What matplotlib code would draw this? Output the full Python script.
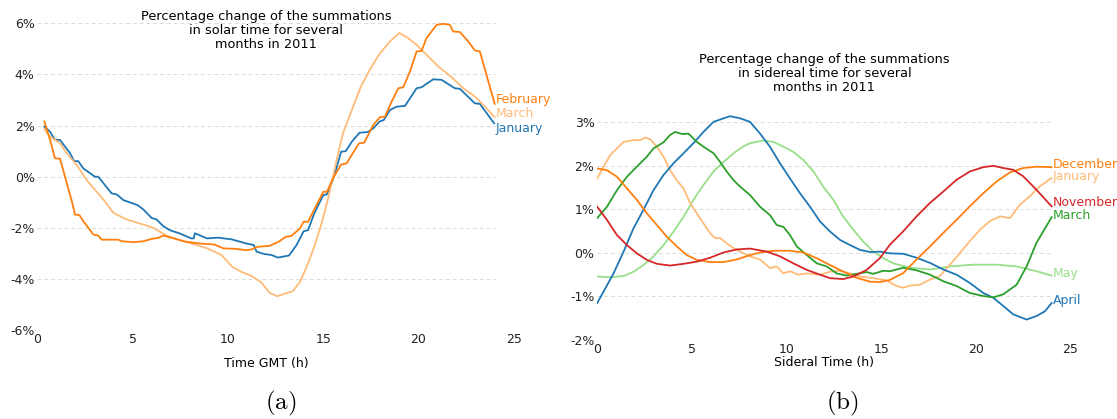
import matplotlib.pyplot as plt
from matplotlib.ticker import FuncFormatter

plt.rcParams['mathtext.fontset'] = 'cm'

# Tableau colours
BLUE = '#1f77b4'
ORANGE = '#ff7f0e'
LIGHT_ORANGE = '#ffbb78'
GREEN = '#2ca02c'
LIGHT_GREEN = '#98df8a'
RED = '#d62728'

# ---- (a) solar time, percentage change ----
jan_solar_h = [0.36, 0.66, 0.92, 1.18, 1.71, 1.92, 2.14, 2.4, 3.02, 3.19, 3.89, 4.16, 4.5, 5.03,
               5.26, 5.56, 5.99, 6.25, 6.6, 6.95, 7.48, 8.07, 8.2, 8.26, 8.9, 9.48, 10.2, 10.97,
               11.35, 11.5, 11.9, 12.28, 12.62, 13.2, 13.6, 13.97, 14.2, 14.53, 15.0, 15.19, 15.56,
               15.94, 16.18, 16.5, 16.9, 17.34, 17.62, 17.96, 18.18, 18.5, 18.85, 19.29, 19.9,
               20.16, 20.77, 21.21, 21.91, 22.17, 22.96, 23.22, 23.97]
jan_solar = [1.96, 1.76, 1.44, 1.44, 0.92, 0.61, 0.61, 0.33, 0.0, 0.0, -0.65, -0.69, -0.91, -1.05,
             -1.11, -1.28, -1.61, -1.67, -1.93, -2.09, -2.22, -2.41, -2.41, -2.21, -2.41, -2.38,
             -2.45, -2.61, -2.67, -2.93, -3.02, -3.06, -3.16, -3.08, -2.67, -2.13, -2.09, -1.43,
             -0.72, -0.69, 0.0, 0.98, 1.0, 1.37, 1.72, 1.75, 1.89, 2.16, 2.22, 2.61, 2.74, 2.77,
             3.46, 3.50, 3.81, 3.79, 3.46, 3.44, 2.87, 2.85, 2.09]

feb_solar_h = [0.36, 0.66, 0.92, 1.18, 1.79, 1.97, 2.2, 2.41, 2.93, 3.19, 3.37, 4.24, 4.42, 5.03,
               5.56, 5.99, 6.34, 6.6, 6.86, 7.48, 7.79, 8.54, 9.29, 9.76, 10.4, 10.97, 11.25, 11.54,
               12.19, 12.66, 13.03, 13.31, 13.78, 13.97, 14.2, 15.0, 15.19, 15.56, 15.94, 16.22,
               16.87, 17.15, 17.62, 17.98, 18.24, 18.59, 18.94, 19.2, 19.55, 19.9, 20.16, 20.42,
               20.95, 21.3, 21.65, 21.82, 22.17, 22.61, 22.96, 23.22, 24.0]
feb_solar = [2.16, 1.44, 0.72, 0.71, -0.92, -1.48, -1.50, -1.74, -2.26, -2.30, -2.46, -2.46, -2.52,
             -2.56, -2.52, -2.43, -2.39, -2.30, -2.35, -2.48, -2.54, -2.61, -2.65, -2.80, -2.82,
             -2.87, -2.84, -2.74, -2.70, -2.54, -2.35, -2.32, -2.02, -1.76, -1.76, -0.59, -0.59,
             0.0, 0.48, 0.52, 1.30, 1.33, 2.02, 2.33, 2.35, 2.94, 3.46, 3.50, 4.11, 4.90, 4.92,
             5.42, 5.94, 5.98, 5.94, 5.68, 5.66, 5.29, 4.94, 4.90, 2.85]

mar_solar_h = [0.36, 0.66, 0.92, 1.18, 1.53, 2.06, 2.58, 3.11, 3.46, 3.98, 4.68, 5.38, 5.73, 6.08,
               6.78, 7.48, 8.35, 8.91, 9.66, 10.22, 10.79, 11.16, 11.72, 12.19, 12.57, 13.03, 13.41,
               13.78, 14.16, 14.53, 14.91, 15.28, 15.66, 16.03, 16.5, 16.97, 17.53, 17.98, 18.5,
               18.99, 19.38, 19.9, 20.42, 21.04, 21.74, 22.35, 22.96, 23.49, 24.0]
mar_solar = [1.86, 1.57, 1.44, 1.31, 0.92, 0.46, -0.13, -0.59, -0.89, -1.41, -1.67, -1.83, -1.91,
             -2.0, -2.30, -2.48, -2.67, -2.80, -3.06, -3.52, -3.75, -3.85, -4.11, -4.54, -4.67,
             -4.56, -4.47, -4.11, -3.46, -2.74, -1.83, -0.78, 0.52, 1.69, 2.61, 3.52, 4.30, 4.83,
             5.29, 5.62, 5.46, 5.16, 4.77, 4.31, 3.89, 3.46, 3.14, 2.74, 2.33]

# ---- (b) sidereal time, percentage change ----
apr_sid_h = [0, 0.33, 0.86, 1.39, 1.92, 2.44, 2.97, 3.5, 4.03, 4.56, 5.08, 5.61, 6.14, 6.67, 7.02,
             7.55, 8.07, 8.6, 9.12, 9.65, 10.18, 10.71, 11.24, 11.77, 12.3, 12.82, 13.35, 13.88,
             14.41, 14.93, 15.46, 16.17, 16.87, 17.58, 18.28, 18.98, 19.68, 20.39, 20.92, 21.45,
             21.97, 22.68, 23.2, 23.65, 24.0]
apr_sid = [-1.15, -0.89, -0.47, 0.03, 0.57, 0.99, 1.44, 1.79, 2.06, 2.29, 2.52, 2.78, 3.01, 3.09,
           3.14, 3.09, 3.01, 2.74, 2.44, 2.06, 1.71, 1.37, 1.06, 0.72, 0.49, 0.30, 0.18, 0.07,
           0.02, 0.03, -0.01, -0.02, -0.11, -0.23, -0.38, -0.50, -0.69, -0.92, -1.03, -1.22,
           -1.41, -1.53, -1.45, -1.34, -1.15]

mar_sid_h = [0, 0.51, 1.04, 1.57, 2.09, 2.62, 2.97, 3.5, 3.85, 4.12, 4.47, 4.82, 5.26, 5.61, 6.14,
             6.49, 6.84, 7.2, 7.55, 8.07, 8.6, 9.12, 9.48, 9.83, 10.18, 10.54, 11.07, 11.6, 12.12,
             12.65, 13.17, 13.7, 14.23, 14.58, 15.11, 15.46, 16.17, 16.87, 17.58, 18.28, 18.98,
             19.68, 20.39, 20.92, 21.45, 22.15, 22.68, 23.2, 24.0]
mar_sid = [0.80, 1.06, 1.44, 1.75, 1.98, 2.21, 2.40, 2.54, 2.71, 2.78, 2.73, 2.74, 2.55, 2.44, 2.29,
           2.09, 1.87, 1.67, 1.52, 1.33, 1.06, 0.87, 0.64, 0.60, 0.41, 0.15, -0.05, -0.24, -0.31,
           -0.47, -0.52, -0.48, -0.44, -0.48, -0.41, -0.42, -0.34, -0.40, -0.50, -0.65, -0.76,
           -0.92, -0.99, -1.02, -0.95, -0.73, -0.31, 0.23, 0.82]

may_sid_h = [0, 0.69, 1.39, 1.92, 2.44, 2.97, 3.5, 4.03, 4.56, 5.08, 5.61, 6.14, 6.67, 7.2, 7.73,
             8.07, 8.77, 9.3, 9.83, 10.36, 10.89, 11.42, 11.94, 12.47, 13.0, 13.53, 14.05, 14.58,
             15.11, 15.64, 16.52, 17.58, 18.63, 19.86, 21.09, 22.15, 23.2, 24.0]
may_sid = [-0.54, -0.56, -0.53, -0.43, -0.28, -0.08, 0.18, 0.49, 0.83, 1.22, 1.56, 1.87, 2.09, 2.29,
           2.45, 2.52, 2.58, 2.55, 2.44, 2.32, 2.13, 1.87, 1.52, 1.22, 0.83, 0.53, 0.26, 0.03,
           -0.12, -0.24, -0.34, -0.38, -0.31, -0.27, -0.27, -0.31, -0.42, -0.52]

nov_sid_h = [0, 0.51, 1.04, 1.57, 2.09, 2.62, 3.15, 3.85, 4.56, 5.26, 5.96, 6.67, 7.37, 8.07, 8.96,
             9.66, 10.36, 11.07, 11.77, 12.3, 13.0, 13.53, 14.23, 14.93, 15.46, 16.17, 16.87,
             17.58, 18.28, 18.98, 19.68, 20.39, 20.92, 21.45, 21.97, 22.5, 23.2, 24.0]
nov_sid = [1.06, 0.76, 0.41, 0.18, -0.01, -0.16, -0.25, -0.29, -0.25, -0.20, -0.11, 0.01, 0.08, 0.10,
           0.03, -0.08, -0.24, -0.39, -0.50, -0.58, -0.60, -0.54, -0.39, -0.12, 0.19, 0.50, 0.84,
           1.15, 1.41, 1.68, 1.87, 1.97, 2.0, 1.95, 1.91, 1.76, 1.45, 1.07]

dec_sid_h = [0, 0.51, 1.04, 1.57, 2.09, 2.62, 3.15, 3.68, 4.2, 4.73, 5.26, 5.96, 6.67, 7.37, 8.07,
             8.6, 9.3, 10.18, 10.88, 11.59, 12.3, 13.0, 13.7, 14.41, 14.93, 15.46, 16.17, 16.87,
             17.58, 18.28, 18.98, 19.68, 20.39, 21.09, 21.8, 22.5, 23.2, 24.0]
dec_sid = [1.94, 1.90, 1.75, 1.48, 1.22, 0.91, 0.64, 0.37, 0.15, -0.05, -0.16, -0.21, -0.21, -0.15,
           -0.05, 0.01, 0.05, 0.05, 0.01, -0.12, -0.28, -0.43, -0.57, -0.66, -0.67, -0.62, -0.46,
           -0.15, 0.15, 0.46, 0.76, 1.07, 1.37, 1.64, 1.85, 1.95, 1.98, 1.97]

jan_sid_h = [0, 0.33, 0.69, 1.04, 1.39, 1.92, 2.27, 2.53, 2.8, 3.15, 3.5, 3.85, 4.2, 4.56, 4.91,
             5.26, 5.61, 5.96, 6.23, 6.49, 6.84, 7.2, 7.55, 8.07, 8.6, 9.12, 9.48, 9.83, 10.18,
             10.62, 11.06, 11.77, 12.3, 12.82, 13.35, 13.88, 14.58, 15.28, 15.81, 16.17, 16.52,
             17.05, 17.58, 18.1, 18.63, 19.16, 19.68, 20.21, 20.74, 21.27, 21.8, 22.33, 22.85,
             23.38, 24.0]
jan_sid = [1.71, 1.98, 2.25, 2.40, 2.55, 2.59, 2.59, 2.65, 2.61, 2.44, 2.21, 1.90, 1.67, 1.48, 1.14,
           0.91, 0.68, 0.45, 0.34, 0.34, 0.22, 0.11, 0.03, -0.08, -0.15, -0.35, -0.31, -0.47, -0.42,
           -0.50, -0.47, -0.50, -0.43, -0.41, -0.47, -0.54, -0.58, -0.63, -0.76, -0.80, -0.75,
           -0.73, -0.61, -0.53, -0.27, 0.0, 0.27, 0.53, 0.73, 0.84, 0.80, 1.11, 1.30, 1.53, 1.72]

solar_series = [
    ('January', jan_solar_h, jan_solar, BLUE, -0.20),
    ('March', mar_solar_h, mar_solar, LIGHT_ORANGE, 0.13),
    ('February', feb_solar_h, feb_solar, ORANGE, 0.19),
]
sidereal_series = [
    ('May', may_sid_h, may_sid, LIGHT_GREEN, 0.05),
    ('January', jan_sid_h, jan_sid, LIGHT_ORANGE, 0.04),
    ('April', apr_sid_h, apr_sid, BLUE, 0.06),
    ('March', mar_sid_h, mar_sid, GREEN, 0.05),
    ('December', dec_sid_h, dec_sid, ORANGE, 0.06),
    ('November', nov_sid_h, nov_sid, RED, 0.08),
]

solar_ticks = [-6, -4, -2, 0, 2, 4, 6]
sidereal_ticks = [-2, -1, 0, 1, 2, 3]
hour_ticks = [0, 5, 10, 15, 20, 25]

solar_title = "Percentage change of the summations\nin solar time for several\nmonths in 2011"
sidereal_title = "Percentage change of the summations\nin sidereal time for several\nmonths in 2011"


def style_axes(ax, yticks, ylim):
    for s in ax.spines.values():
        s.set_visible(False)
    ax.set_xlim(0, 25)
    ax.set_ylim(*ylim)
    ax.set_xticks(hour_ticks)
    ax.set_yticks(yticks)
    ax.yaxis.set_major_formatter(FuncFormatter(lambda v, p: f"{v:.0f}%"))
    ax.tick_params(length=0, pad=2, labelsize=9, colors='#222222')
    # dashed reference lines over the data range
    ax.hlines(yticks[1:], 0, 24, colors='#dcdcdc', linewidth=0.7,
              linestyles=(0, (4, 3)), zorder=0)


def draw_series(ax, series):
    for name, h, v, color, dy in series:
        ax.plot(h, v, color=color, lw=1.3)
        ax.text(h[-1] + 0.08, v[-1] + dy, name, color=color, fontsize=9,
                ha='left', va='center')


fig = plt.figure(figsize=(11.17, 4.19), dpi=100)

ax1 = fig.add_axes([0.03357, 0.2119, 0.42637, 0.7325])
style_axes(ax1, solar_ticks, (-6, 6))
draw_series(ax1, solar_series)
ax1.text(12, 6.52, solar_title, ha='center', va='top', fontsize=9.3, linespacing=1.1)
ax1.text(12, -7.29, 'Time GMT (h)', ha='center', va='center', fontsize=9)

ax2 = fig.add_axes([0.5347, 0.1885, 0.4237, 0.5716])
style_axes(ax2, sidereal_ticks, (-2, 3.5))
draw_series(ax2, sidereal_series)
ax2.text(12, 4.58, sidereal_title, ha='center', va='top', fontsize=9.3, linespacing=1.1)
ax2.text(12, -2.51, 'Sideral Time (h)', ha='center', va='center', fontsize=9)

fig.text(281 / 1117, 1 - 403 / 419, r'$(\mathrm{a})$', fontsize=18, ha='center', va='center')
fig.text(842 / 1117, 1 - 403 / 419, r'$(\mathrm{b})$', fontsize=18, ha='center', va='center')

fig.savefig('out.png', dpi=100)
